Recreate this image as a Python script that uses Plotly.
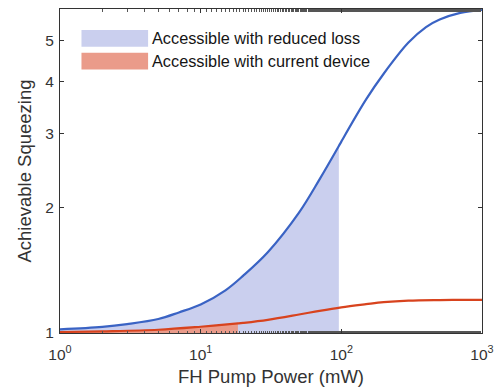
import plotly.graph_objects as go

# Blue curve: achievable squeezing with reduced loss
blue_power = [1, 2, 3, 5, 7, 10, 15, 20, 30, 50, 70, 96, 100, 150, 200, 300, 400, 500, 700, 1000]
blue_sq = [1.02, 1.034, 1.05, 1.08, 1.12, 1.17, 1.265, 1.37, 1.56, 1.94, 2.33, 2.80, 2.87, 3.62, 4.17, 4.95, 5.39, 5.62, 5.83, 5.93]

# Red curve: achievable squeezing with current device
red_power = [1, 2, 5, 10, 18.4, 20, 30, 50, 70, 100, 150, 200, 300, 500, 700, 1000]
red_sq = [1.005, 1.009, 1.018, 1.035, 1.054, 1.057, 1.075, 1.107, 1.13, 1.152, 1.172, 1.185, 1.195, 1.199, 1.2, 1.2]

# Accessible power limits (mW)
blue_fill_max = 96
red_fill_max = 18.4

x_tickvals = [1, 10, 100, 1000]
x_ticktext = ["10<sup>0</sup>", "10<sup>1</sup>", "10<sup>2</sup>", "10<sup>3</sup>"]
y_tickvals = [1, 2, 3, 4, 5]
y_ticktext = ["1", "2", "3", "4", "5"]

legend_labels = ["Accessible with reduced loss", "Accessible with current device"]

BLUE_LINE = "#3A63C4"
RED_LINE = "#D8431E"
BLUE_FILL = "#CACFEE"
RED_FILL = "#EA9B8A"
FONT = "Liberation Sans, Arial, sans-serif"

fig = go.Figure()


def add_fill(px, py, pmax, color):
    xs = [p for p in px if p <= pmax]
    ys = [v for p, v in zip(px, py) if p <= pmax]
    fig.add_trace(go.Scatter(x=xs, y=[1] * len(xs), mode="lines", line=dict(width=0),
                             showlegend=False, hoverinfo="skip"))
    fig.add_trace(go.Scatter(x=xs, y=ys, mode="lines", line=dict(width=0, shape="spline"),
                             fill="tonexty", fillcolor=color, showlegend=False, hoverinfo="skip"))


add_fill(blue_power, blue_sq, blue_fill_max, BLUE_FILL)
add_fill(red_power, red_sq, red_fill_max, RED_FILL)

fig.add_trace(go.Scatter(x=blue_power, y=blue_sq, mode="lines",
                         line=dict(color=BLUE_LINE, width=2.2, shape="spline"), showlegend=False))
fig.add_trace(go.Scatter(x=red_power, y=red_sq, mode="lines",
                         line=dict(color=RED_LINE, width=2.2, shape="spline"), showlegend=False))

# Figure geometry (page pixels, body margin removed)
W, H = 499, 390
L, R, T, B = 59.5, 482.0, 9.0, 333.0
PW, PH = R - L, B - T


def px_x(x):
    return (x - L) / PW


def px_y(y):
    return (B - y) / PH


# Custom legend with wide patches
for i, (lab, col) in enumerate(zip(legend_labels, [BLUE_FILL, RED_FILL])):
    y0 = 30 + i * 22.7
    y1 = y0 + 16.7
    fig.add_shape(type="rect", xref="paper", yref="paper",
                  x0=px_x(81), x1=px_x(147.7), y0=px_y(y1), y1=px_y(y0),
                  fillcolor=col, line=dict(width=0), layer="above")
    fig.add_annotation(xref="paper", yref="paper", x=px_x(150), y=px_y((y0 + y1) / 2),
                       text=lab, showarrow=False, xanchor="left", yanchor="middle",
                       font=dict(family=FONT, size=16.3, color="#151515"))

axis_common = dict(
    showline=True, linecolor="#333", linewidth=1, mirror="ticks",
    ticks="inside", ticklen=4, tickcolor="#333", showgrid=False, zeroline=False,
    automargin=False,
    tickfont=dict(family=FONT, size=15.5, color="#333"),
)

fig.update_xaxes(type="log", range=[0, 3], tickvals=x_tickvals, ticktext=x_ticktext,
                 ticklabelstandoff=7,
                 title=dict(text="FH Pump Power (mW)", standoff=8,
                            font=dict(family=FONT, size=18.5, color="#333")),
                 minor=dict(ticks="inside", ticklen=2.5, tickcolor="#555", showgrid=False),
                 **axis_common)
fig.update_yaxes(type="log", range=[0, 0.775], tickvals=y_tickvals, ticktext=y_ticktext,
                 ticklabelstandoff=2,
                 title=dict(text="Achievable Squeezing", standoff=8,
                            font=dict(family=FONT, size=18.5, color="#333")),
                 **axis_common)

fig.update_layout(
    width=W, height=H,
    margin=dict(l=L, r=W - R, t=T, b=H - B),
    plot_bgcolor="white", paper_bgcolor="white",
    showlegend=False,
)

fig.write_html("out.html",
               config={"displayModeBar": False, "staticPlot": True},
               post_script="document.body.style.margin='0px';document.body.style.overflow='hidden';")
